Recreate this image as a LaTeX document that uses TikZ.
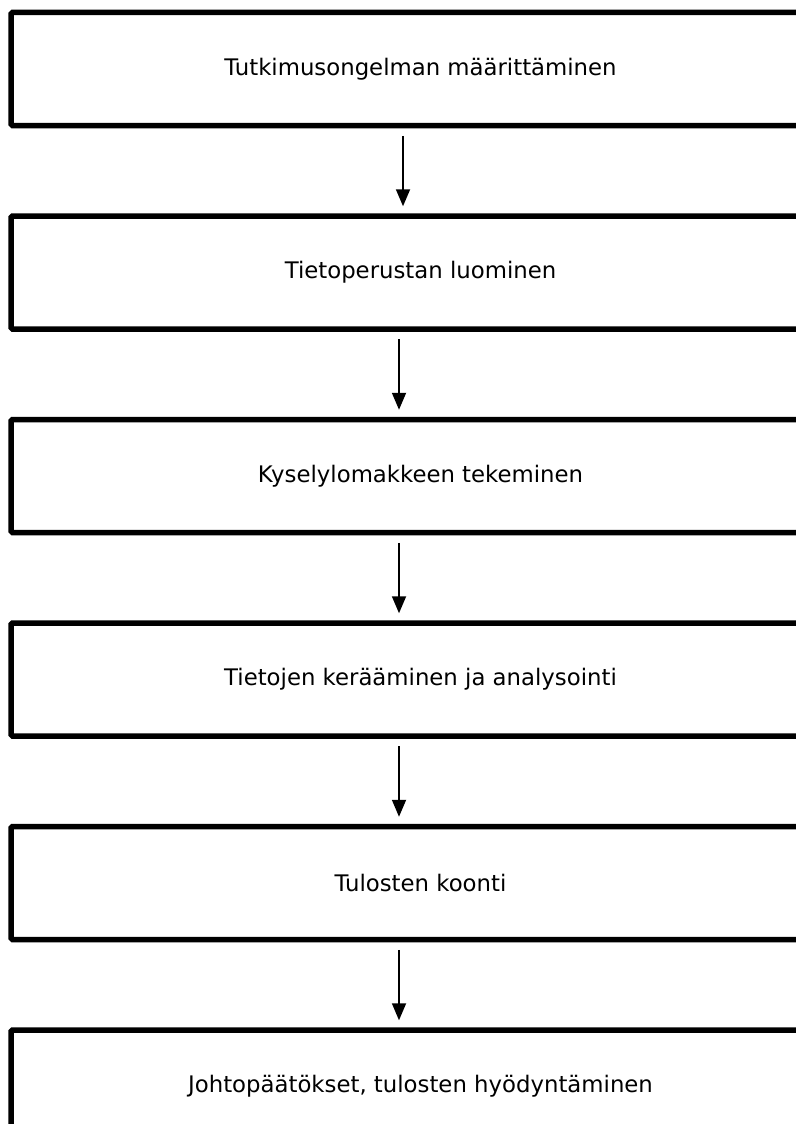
\documentclass[tikz,border=0pt]{standalone}
\usepackage{fontspec}
\setmainfont{DejaVu Sans}
\usetikzlibrary{positioning,arrows.meta}

\begin{document}
\begin{tikzpicture}[x=1pt,y=1pt,node distance=203.5pt,on grid,
    stage/.style={draw,line width=5.5pt,rounded corners=1.5pt,minimum width=819pt,
      minimum height=113pt,inner sep=0pt,font=\fontsize{22.8}{27}\selectfont},
    flow/.style={-{Triangle[width=14pt,length=17pt]},line width=1.8pt,
      shorten <=7.5pt,shorten >=7pt}]
  \useasboundingbox (0,0) rectangle (795,-1124);
  \node[stage] (s1) at (420.5,-69) {Tutkimusongelman määrittäminen};
  \node[stage] (s2) [below=of s1] {Tietoperustan luominen};
  \node[stage] (s3) [below=of s2] {Kyselylomakkeen tekeminen};
  \node[stage] (s4) [below=of s3] {Tietojen kerääminen ja analysointi};
  \node[stage] (s5) [below=of s4] {Tulosten koonti};
  \node[stage] (s6) [below=of s5] {Johtopäätökset, tulosten hyödyntäminen};

  \draw[flow] ([xshift=-17.5pt]s1.south) -- ([xshift=-17.5pt]s2.north);
  \foreach \a/\b in {s2/s3,s3/s4,s4/s5,s5/s6}
    \draw[flow] ([xshift=-21.5pt]\a.south) -- ([xshift=-21.5pt]\b.north);
\end{tikzpicture}
\end{document}
